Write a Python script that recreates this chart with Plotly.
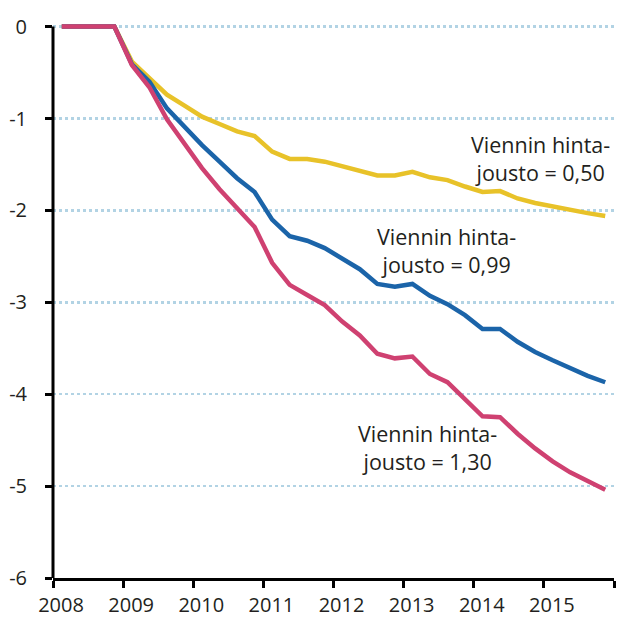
import plotly.graph_objects as go

years = [2008, 2009, 2010, 2011, 2012, 2013, 2014, 2015]
quarters = [y + (q - 0.5) / 4 for y in years for q in range(1, 5)]

elast_050 = [0, 0, 0, 0,
             -0.38, -0.56, -0.74, -0.86,
             -0.98, -1.06, -1.14, -1.19,
             -1.36, -1.44, -1.44, -1.47,
             -1.52, -1.56, -1.62, -1.62,
             -1.58, -1.64, -1.67, -1.74,
             -1.80, -1.79, -1.87, -1.92,
             -1.96, -2.00, -2.03, -2.06]

elast_099 = [0, 0, 0, 0,
             -0.41, -0.60, -0.89, -1.09,
             -1.29, -1.47, -1.65, -1.80,
             -2.10, -2.28, -2.33, -2.41,
             -2.53, -2.64, -2.80, -2.83,
             -2.80, -2.93, -3.02, -3.14,
             -3.29, -3.29, -3.43, -3.54,
             -3.63, -3.72, -3.80, -3.87]

elast_130 = [0, 0, 0, 0,
             -0.42, -0.66, -1.01, -1.27,
             -1.54, -1.77, -1.98, -2.18,
             -2.57, -2.81, -2.92, -3.03,
             -3.21, -3.36, -3.56, -3.61,
             -3.59, -3.78, -3.87, -4.06,
             -4.24, -4.25, -4.43, -4.59,
             -4.73, -4.85, -4.95, -5.04]

labels = [
    "Viennin hinta-<br>jousto = 0,50",
    "Viennin hinta-<br>jousto = 0,99",
    "Viennin hinta-<br>jousto = 1,30",
]
colors = ["#E8C229", "#1B64A9", "#CF4171"]
values = [elast_050, elast_099, elast_130]
label_x = [2014.95, 2013.61, 2013.34]
label_y = [-1.43, -2.44, -4.58]

x_tickvals = [2008, 2009, 2010, 2011, 2012, 2013, 2014, 2015, 2016]
x_ticktext = ["2008", "2009", "2010", "2011", "2012", "2013", "2014", "2015", ""]
y_tickvals = [0, -1, -2, -3, -4, -5, -6]
y_ticktext = ["0", "-1", "-2", "-3", "-4", "-5", "-6"]

FONT = "Open Sans"
TXT = "#231F20"

fig = go.Figure()
for lab, vals, color, ax, ay in zip(labels, values, colors, label_x, label_y):
    fig.add_trace(go.Scatter(x=quarters, y=vals, mode="lines",
                             name=lab.replace("<br>", " "),
                             line=dict(color=color, width=4.5), showlegend=False,
                             cliponaxis=False, hoverinfo="skip"))
    fig.add_annotation(x=ax, y=ay, text=lab, showarrow=False,
                       font=dict(family=FONT, size=21.5, color=TXT),
                       align="center", xanchor="center", yanchor="middle")

fig.add_shape(type="line", xref="paper", x0=0, x1=0, yref="y", y0=-6, y1=0,
              line=dict(color="black", width=3))

fig.update_layout(
    width=617, height=619,
    margin=dict(l=53, r=3, t=22, b=41),
    paper_bgcolor="white", plot_bgcolor="white",
    font=dict(family=FONT, size=20, color=TXT),
    xaxis=dict(range=[2008, 2016], tickmode="array", tickvals=x_tickvals,
               ticktext=x_ticktext, showgrid=False, zeroline=False,
               showline=True, linecolor="black", linewidth=3,
               ticks="outside", ticklen=7, tickwidth=3, tickcolor="black",
               ticklabelshift=8, ticklabelstandoff=0, automargin=False),
    yaxis=dict(range=[-6, 0.05], tickmode="array", tickvals=y_tickvals,
               ticktext=y_ticktext, showgrid=True, gridcolor="#B2D3E4",
               griddash="3px,3px", gridwidth=2.5, zeroline=False, showline=False,
               ticks="outside", ticklen=7, tickwidth=3, tickcolor="black",
               ticklabelstandoff=14, automargin=False),
)

fig.write_html("out.html", config={"displayModeBar": False, "staticPlot": True},
               post_script="document.body.style.margin='0';document.body.style.overflow='hidden';")
